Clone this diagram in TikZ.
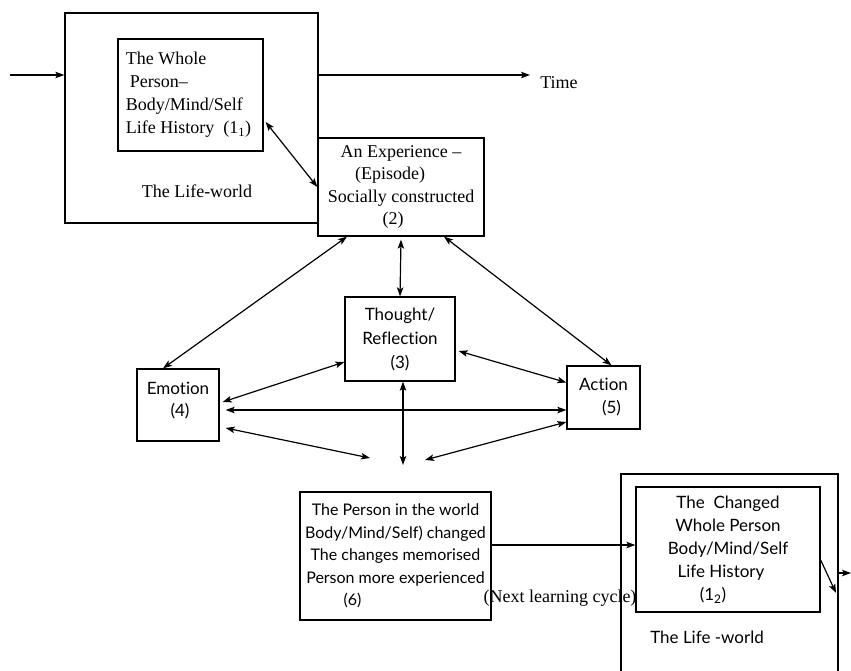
\documentclass[tikz,border=0pt]{standalone}
\usepackage{fontspec}
\setmainfont{Liberation Serif}
\newfontfamily\optfont[Ligatures={NoCommon,NoContextual}]{Lato}
\usetikzlibrary{arrows.meta,calc}

\begin{document}
\begin{tikzpicture}[x=1pt,y=-1pt,
  box/.style={draw,line width=1.3pt,inner sep=0pt,align=center,
    font=\fontsize{18}{22.5}\selectfont},
  sbox/.style={box,font=\optfont\fontsize{17}{23}\selectfont},
  lbl/.style={inner sep=0pt,align=center,font=\fontsize{18}{22.5}\selectfont},
  arr/.style={line width=1.2pt,-{Stealth[length=9pt,width=6.5pt,inset=2pt]}},
  dbl/.style={line width=1.2pt,{Stealth[length=9pt,width=6.5pt,inset=2pt]}-{Stealth[length=9pt,width=6.5pt,inset=2pt]}}
]
\useasboundingbox (0,0) rectangle (851,670);

% first life-world and the whole person in it
\node[box,minimum width=253,minimum height=210] (lw1) at (191.5,118) {};
\node[box,minimum width=145,minimum height=112,align=left] (p1) at (190.5,95)
  {\hspace*{-4pt}The Whole\\[0.5pt]\hspace*{0pt}Person–\\[0.5pt]\hspace*{-4pt}Body/Mind/Self\\[0.5pt]\hspace*{-4pt}Life History\ \ (1\textsubscript{1})};
\node[lbl] (lw1t) at (197,191) {The Life-world};

% the experience
\node[box,minimum width=166,minimum height=98] (exp) at (401,187)
  {An Experience –\\(Episode)\hspace{22pt}\mbox{}\\Socially constructed\\(2)\hspace{16pt}\mbox{}};

% thought, emotion, action
\node[sbox,font=\optfont\fontsize{17}{24}\selectfont,minimum width=110,minimum height=84] (tho) at (400,339)
  {Thought/\\Reflection\\(3)};
\node[sbox,minimum width=82,minimum height=72] (emo) at (178,405)
  {Emotion\\[-1pt]\hspace*{4pt}(4)\\[-12pt]\mbox{}};
\node[sbox,minimum width=73,minimum height=63] (act) at (603.5,397.5)
  {Action\\\hspace*{16pt}(5)};

% the changed person
\node[sbox,font=\optfont\fontsize{16}{22.5}\selectfont,minimum width=191,minimum height=128] (per) at (395.5,556)
  {The Person in the world\\Body/Mind/Self) changed\\The changes memorised\\Person more experienced\\(6)\hspace{86pt}\mbox{}};

% second life-world and the changed whole person
\node[box,minimum width=217,minimum height=230] (lw2) at (729.5,589) {};
\node[sbox,minimum width=184,minimum height=125] (in2) at (728,549.5)
  {The\ \ Changed\\Whole Person\\Body/Mind/Self\\Life History\hspace{14pt}\mbox{}\\(1\textsubscript{2})\hspace{30pt}\mbox{}};
\node[lbl,font=\optfont\fontsize{17}{22.5}\selectfont] (lw2t) at (707,637) {The Life -world};

% free labels
\node[lbl] (time) at (559,83) {Time};
\node[lbl] (next) at (560,598) {(Next learning cycle)};

% free ends
\coordinate (inS) at (10,75);
\coordinate (tEnd) at (530,75);
\coordinate (meet) at (400,462);
\coordinate (outEnd) at (836,593);
\coordinate (exitEnd) at (851,573);

% connectors
\draw[arr] (inS) -- (inS -| lw1.west);
\draw[arr] (tEnd -| lw1.east) -- (tEnd);
\draw[dbl] ($(p1.east)+(2,27)$) -- (exp.west);
\draw[dbl] ($(exp.south)+(-54,0)$) -- ($(emo.north)+(-15,0)$);
\draw[dbl] ($(exp.south)+(0,3)$) -- (tho.north);
\draw[dbl] ($(exp.south)+(43,0)$) -- ($(act.north)+(8,0)$);
\draw[dbl] ($(tho.west)+(0,23)$) -- ($(emo.east)+(3,-3)$);
\draw[dbl] ($(tho.east)+(3,12)$) -- ($(act.west)+(0,-15)$);
\draw[dbl] ($(emo.east)+(6,5)$) -- ($(act.west)+(0,12.5)$);
\draw[dbl] ($(emo.east)+(6,23)$) -- ($(meet)+(-30,-4)$);
\draw[dbl] ($(act.west)+(0,24.5)$) -- ($(meet)+(25,-2)$);
\draw[dbl] ($(tho.south)+(3,0)$) -- ($(meet)+(3,3)$);
\draw[arr] ($(per.east)+(0,-11)$) -- ($(in2.west)+(0,-4.5)$);
\draw[arr] ($(in2.east)+(0,10.5)$) -- (outEnd);
\draw[arr] (exitEnd -| lw2.east) -- (exitEnd);
\end{tikzpicture}
\end{document}
